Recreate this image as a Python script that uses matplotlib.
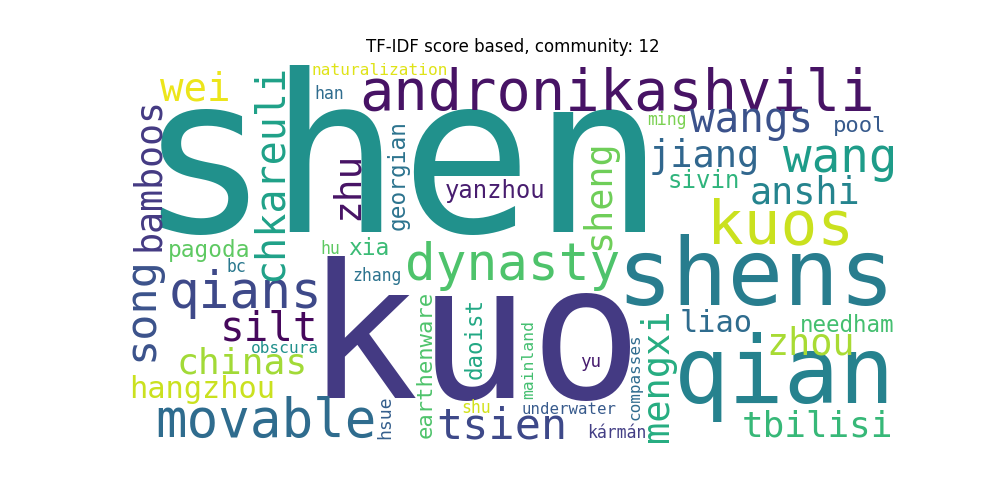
# Word cloud of TF-IDF scores for community 12, redrawn with plain matplotlib text
import matplotlib
matplotlib.use('Agg')
import matplotlib.pyplot as plt
from matplotlib import cm

words = ['shen', 'kuo', 'andronikashvili', 'shens', 'qian', 'kuos', 'dynasty',
         'movable', 'qians', 'wang', 'wangs', 'wei', 'jiang', 'anshi', 'silt',
         'chinas', 'tsien', 'tbilisi', 'zhou', 'hangzhou', 'liao', 'pagoda',
         'yanzhou', 'xia', 'needham', 'sivin', 'pool', 'naturalization', 'han',
         'ming', 'hu', 'bc', 'zhang', 'obscura', 'yu', 'underwater', 'shu',
         'kármán', 'chkareuli', 'bamboos', 'song', 'zhu', 'georgian', 'sheng',
         'mengxi', 'earthenware', 'daoist', 'hsue', 'mainland', 'compasses']

# relative weight of each word (font size on the 400x200 cloud canvas)
weights = [113.8, 97.1, 29.6, 48.1, 47.8, 31.7, 26.5,
           27.3, 26.5, 24.7, 21.3, 20.3, 19.2, 19.1, 21.3,
           18.9, 22.6, 18.7, 19.1, 15.8, 15.8, 11.8,
           12.4, 11.9, 11.7, 12.5, 11.6, 8.4, 8.6,
           8.6, 8.6, 8.6, 8.6, 8.4, 9.1, 8.2, 8.6,
           8.6, 20.8, 19.0, 22.6, 19.7, 11.8, 19.1,
           19.2, 11.6, 11.7, 9.4, 8.5, 8.3]

# layout on the canvas: centre along the text, baseline across it
pos_a = [142.1, 180.0, 254.5, 326.5, 341.6, 339.0, 200.0,
         71.9, 61.3, 370.1, 324.2, 35.1, 299.7, 351.9, 73.5,
         59.7, 194.3, 358.4, 355.1, 39.0, 305.7, 42.3,
         190.9, 125.5, 374.0, 299.5, 380.5, 130.9, 104.7,
         280.0, 105.5, 56.6, 129.4, 81.6, 240.8, 229.6, 181.3,
         254.3, 58.2, 59.0, 129.1, 65.2, 59.5, 70.1,
         163.6, 158.4, 144.7, 185.5, 155.8, 164.4]
pos_b = [89.4, 175.6, 26.0, 127.3, 178.2, 95.1, 114.3,
         195.8, 128.8, 58.2, 37.4, 20.8, 55.6, 74.3, 145.5,
         162.6, 196.4, 195.8, 153.2, 175.6, 141.3, 102.3,
         71.7, 101.3, 141.3, 66.5, 37.4, 7.8, 20.3,
         33.8, 100.8, 110.1, 114.8, 152.2, 159.5, 183.9, 183.4,
         196.4, 80.3, 16.6, 13.2, 119.7, 144.2, 250.1,
         280.8, 158.2, 184.2, 136.4, 210.6, 266.2]
n_horizontal = 38

shade = [0.5, 0.17, 0.05, 0.42, 0.44, 0.92, 0.72,
         0.35, 0.22, 0.55, 0.25, 0.97, 0.33, 0.45, 0.02,
         0.86, 0.22, 0.67, 0.87, 0.92, 0.35, 0.75,
         0.08, 0.68, 0.7, 0.65, 0.28, 0.95, 0.35,
         0.8, 0.75, 0.4, 0.38, 0.5, 0.08, 0.28, 0.93,
         0.18, 0.57, 0.17, 0.25, 0.05, 0.38, 0.78,
         0.62, 0.72, 0.6, 0.3, 0.7, 0.35]

fig = plt.figure(figsize=(10, 5), dpi=100)
ax = fig.add_axes([0.1275, 0.11, 0.77, 0.77])
ax.set_xlim(0, 400)
ax.set_ylim(200, 0)
ax.axis('off')
ax.set_title('TF-IDF score based, community: 12')

px_per_unit = 770 / 400
for i, w in enumerate(words):
    fs = weights[i] * px_per_unit * 72 / fig.dpi
    col = cm.viridis(shade[i])
    if i < n_horizontal:
        ax.text(pos_a[i], pos_b[i], w, fontsize=fs, color=col,
                family='DejaVu Sans Mono', ha='center', va='baseline')
    else:
        ax.text(pos_b[i], pos_a[i], w, fontsize=fs, color=col,
                family='DejaVu Sans Mono', ha='center', va='baseline',
                rotation=90, rotation_mode='anchor')

plt.savefig('out.png')
